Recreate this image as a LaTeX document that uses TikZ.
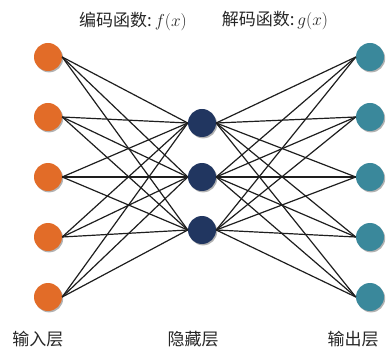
\documentclass[tikz,border=0pt]{standalone}
\usepackage{fontspec}
\newfontfamily\cjk{Noto Sans CJK SC}
\usetikzlibrary{shadows}
\definecolor{inorange}{RGB}{226,108,40}
\definecolor{hidnavy}{RGB}{33,54,96}
\definecolor{outteal}{RGB}{58,136,155}
\definecolor{edgec}{RGB}{30,30,30}
\begin{document}
\begin{tikzpicture}[x=1pt,y=-1pt,
  neuron/.style={circle,minimum size=28pt,inner sep=0pt,
    drop shadow={shadow xshift=1.2pt,shadow yshift=-1.4pt,fill=black,opacity=0.3}},
  inn/.style={neuron,fill=inorange},
  hid/.style={neuron,fill=hidnavy},
  outn/.style={neuron,fill=outteal},
  wire/.style={draw=edgec,line width=1.2pt},
  lbl/.style={font=\cjk\fontsize{17}{20}\selectfont,inner sep=0pt,text=black!85}]
\useasboundingbox (0,0) rectangle (388,347);
\foreach \i/\y in {1/57,2/117,3/177,4/237,5/297}{
  \coordinate (pl\i) at (48,\y);
  \coordinate (pr\i) at (370,\y);
}
\foreach \j/\y in {1/123,2/177,3/230}{
  \coordinate (pm\j) at (202,\y);
}
\foreach \i in {1,...,5}{
  \node[inn] (l\i) at (pl\i) {};
  \node[outn] (r\i) at (pr\i) {};
}
\foreach \j in {1,2,3}{
  \node[hid] (m\j) at (pm\j) {};
}
\foreach \i in {1,...,5}{
  \foreach \j in {1,2,3}{
    \draw[wire] (l\i.east) -- (m\j.west);
    \draw[wire] (m\j.east) -- (r\i.west);
  }
}
\node[lbl] (enc) at (133,21) {编码函数:\,$f(x)$};
\node[lbl] (dec) at (275,21) {解码函数:\,$g(x)$};
\node[lbl] (tin) at (38,339) {输入层};
\node[lbl] (thid) at (193,339) {隐藏层};
\node[lbl] (tout) at (353,339) {输出层};
\end{tikzpicture}
\end{document}
